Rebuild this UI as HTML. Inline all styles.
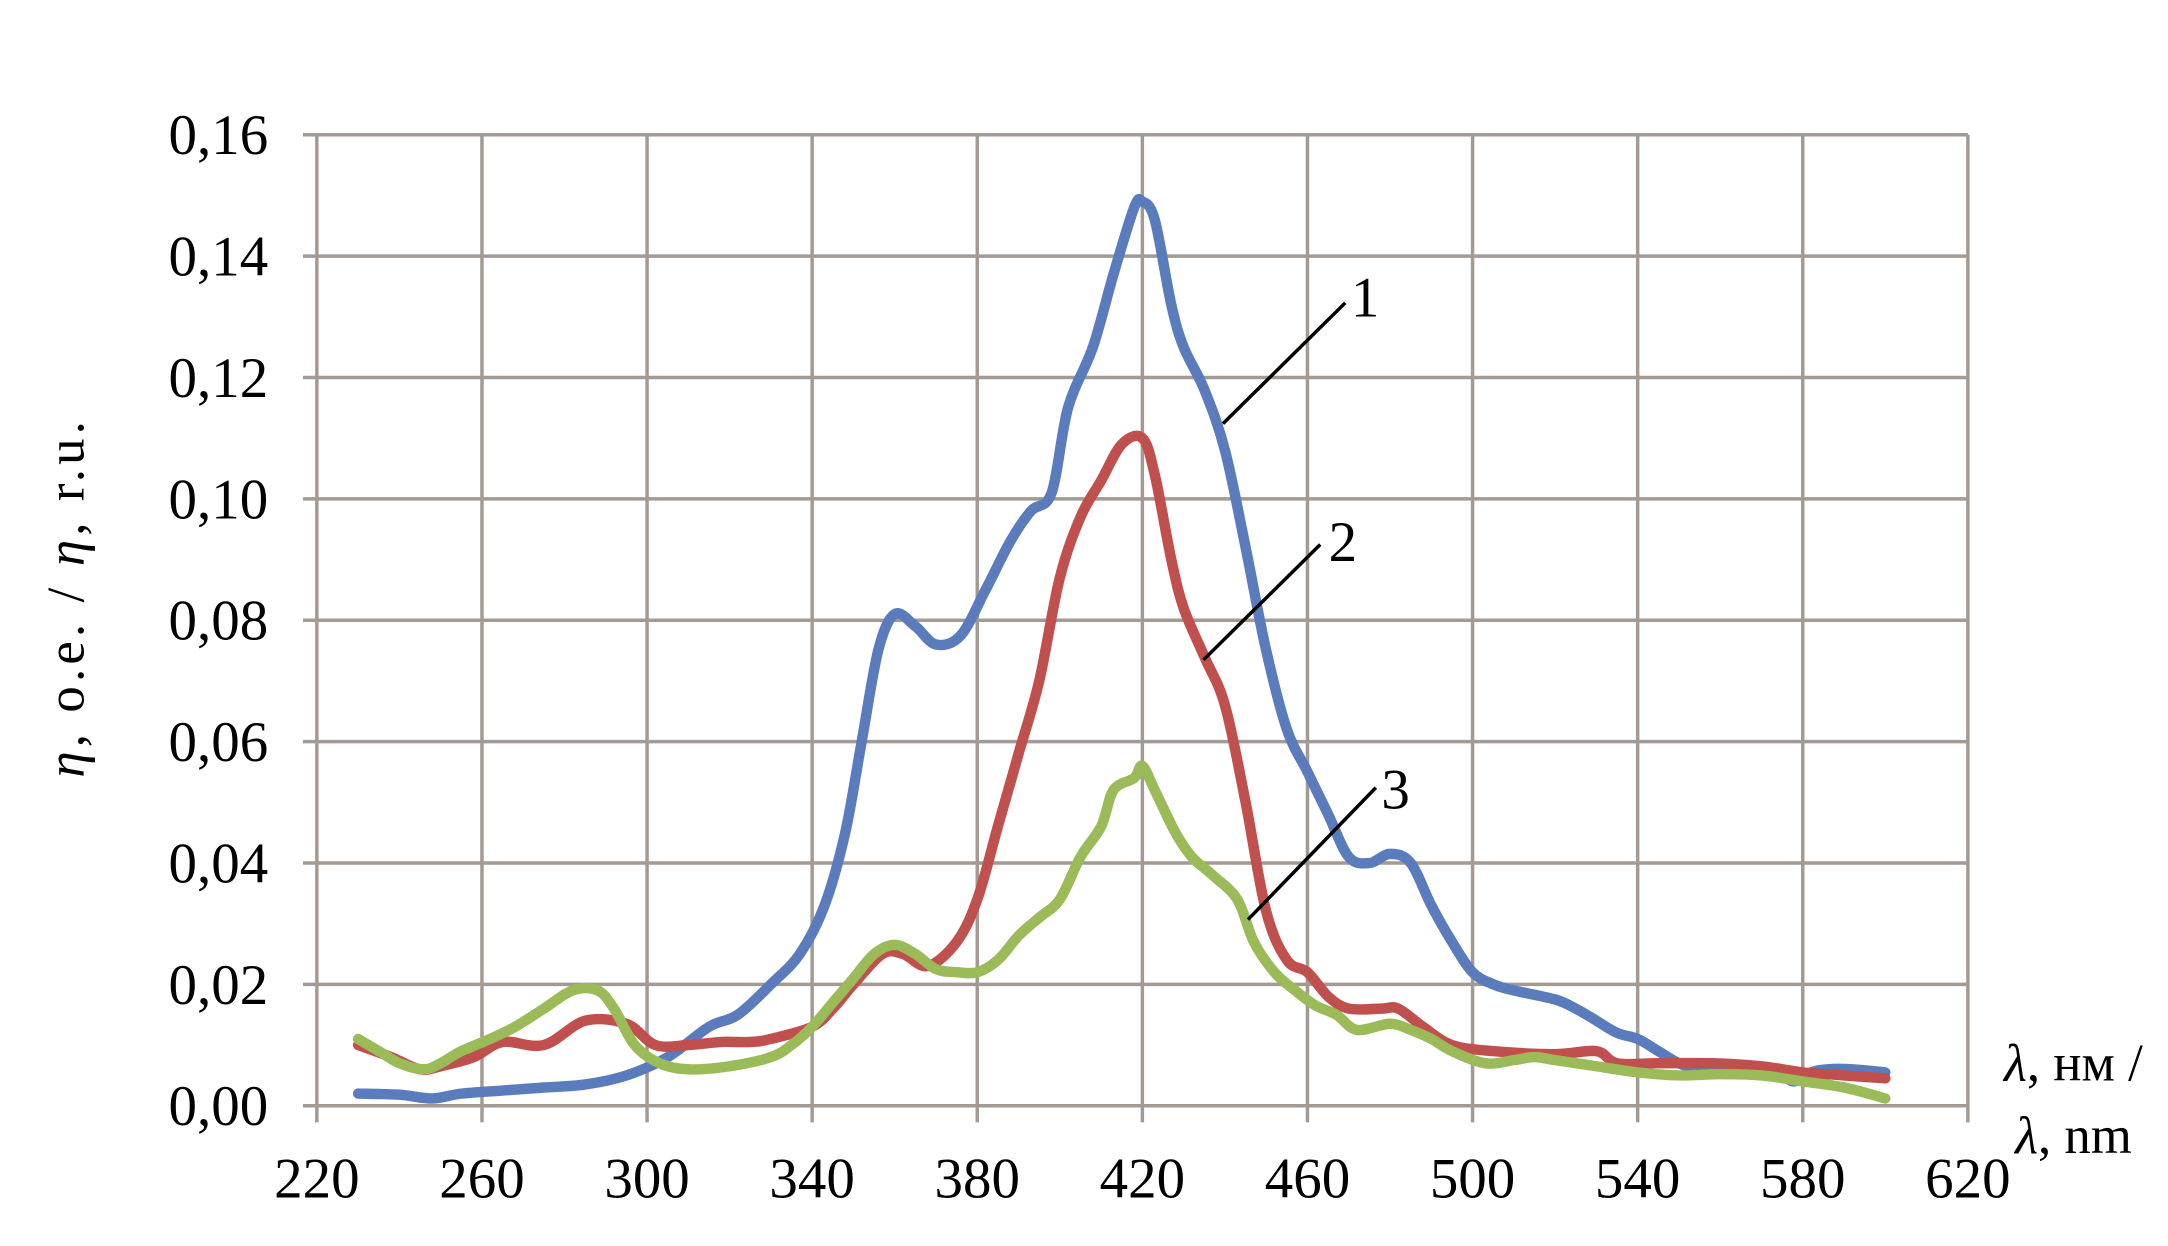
<!DOCTYPE html>
<html><head><meta charset="utf-8"><style>
html,body{margin:0;padding:0;background:#fff;}
svg{display:block;}
text{font-family:"Liberation Serif",serif;fill:#000;}
</style></head><body>
<svg id="s" width="2168" height="1246" viewBox="0 0 1560 897" preserveAspectRatio="none" xmlns="http://www.w3.org/2000/svg">
<g id="grid" stroke="#a39a94" stroke-width="2.5" fill="none"></g>
<g id="labels" font-size="41"></g>
<g id="curves" fill="none" stroke-width="7.5" stroke-linejoin="round" stroke-linecap="round"></g>
<g stroke="#000" stroke-width="2.5">
<line x1="880" y1="305" x2="968" y2="218"/>
<line x1="866" y1="475" x2="950" y2="392"/>
<line x1="898" y1="662" x2="990" y2="567"/>
</g>
<text x="972" y="228" font-size="41">1</text>
<text x="956" y="404" font-size="41">2</text>
<text x="994" y="582" font-size="41">3</text>
<text x="1442" y="778" font-size="38"><tspan font-style="italic">λ</tspan>, нм /</text>
<text x="1450" y="830" font-size="38"><tspan font-style="italic">λ</tspan>, nm</text>
<text transform="translate(60,430) rotate(-90)" text-anchor="middle" font-size="38" letter-spacing="3"><tspan font-style="italic">η</tspan>, о.е. / <tspan font-style="italic">η</tspan>,  r.u.</text>
</svg>
<script>
var ns="http://www.w3.org/2000/svg";
function X(l){return 228+(l-220)*2.97;}
function Y(v){return 796-v*4368.75;}
var g=document.getElementById('grid'),lb=document.getElementById('labels'),cv=document.getElementById('curves');
function el(p,t,a){var e=document.createElementNS(ns,t);for(var k in a)e.setAttribute(k,a[k]);p.appendChild(e);return e;}
for(var i=0;i<=10;i++){var x=X(220+i*40);el(g,'line',{x1:x,y1:97,x2:x,y2:808});
 var t=el(lb,'text',{x:x,y:862,'text-anchor':'middle'});t.textContent=220+i*40;}
for(var j=0;j<=8;j++){var y=Y(j*0.02);el(g,'line',{x1:218,y1:y,x2:1416,y2:y});
 var t=el(lb,'text',{x:193,y:y+14,'text-anchor':'end'});t.textContent='0,'+(j*2<10?'0':'')+(j*2);}
var B=[230,.002,240,.0018,248,.0012,255,.002,265,.0025,275,.003,285,.0035,295,.005,305,.008,315,.013,322,.015,330,.02,337,.025,343,.033,348,.045,352,.06,356,.075,360,.081,365,.079,370,.076,376,.0775,382,.085,388,.093,393,.098,398,.101,402,.115,408,.125,413,.137,418,.148,420,.149,423,.146,427,.132,430,.125,435,.118,440,.108,445,.092,450,.075,455,.062,460,.055,465,.048,470,.041,475,.04,480,.0415,485,.04,490,.033,495,.027,500,.022,505,.02,510,.019,520,.0175,525,.016,530,.014,535,.012,540,.011,545,.009,550,.007,555,.006,560,.0065,565,.006,570,.006,575,.005,578,.004,582,.0055,586,.006,592,.006,600,.0055];
var R=[230,.01,238,.008,245,.006,250,.0065,258,.008,265,.0105,275,.01,285,.014,295,.0135,302,.01,310,.01,318,.0105,325,.0105,330,.011,340,.013,345,.016,350,.02,357,.025,362,.025,368,.023,375,.027,380,.034,385,.046,390,.058,395,.07,400,.087,405,.097,410,.103,415,.109,420,.11,423,.104,427,.09,430,.082,435,.074,440,.066,445,.05,450,.032,455,.024,460,.022,465,.018,470,.016,478,.016,482,.016,488,.013,495,.01,505,.009,520,.0085,530,.009,535,.007,545,.007,558,.007,570,.0065,580,.0055,590,.005,600,.0045];
var G=[230,.011,235,.009,240,.007,246,.006,250,.007,255,.009,262,.011,268,.013,275,.016,282,.019,288,.019,292,.016,297,.01,303,.007,310,.006,320,.0065,330,.008,335,.01,340,.013,345,.017,350,.021,355,.025,360,.0265,365,.025,370,.0225,375,.022,380,.022,385,.024,390,.028,395,.031,400,.034,405,.041,410,.046,413,.052,418,.054,420,.056,423,.052,428,.045,432,.041,437,.038,443,.034,447,.027,452,.022,457,.019,462,.0165,467,.015,472,.0125,480,.0135,485,.0125,490,.011,495,.009,503,.007,510,.0075,515,.008,520,.0075,530,.0065,540,.0055,550,.005,560,.0052,570,.005,580,.004,590,.003,600,.0012];
function draw(d,c){var p=[];for(var i=0;i<d.length;i+=2)p.push([X(d[i]),Y(d[i+1])]);
 var s='M'+p[0][0]+','+p[0][1];
 for(var i=0;i<p.length-1;i++){var p0=p[i-1]||p[i],p1=p[i],p2=p[i+1],p3=p[i+2]||p2;
  var c1x=p1[0]+(p2[0]-p0[0])/6,c1y=p1[1]+(p2[1]-p0[1])/6,c2x=p2[0]-(p3[0]-p1[0])/6,c2y=p2[1]-(p3[1]-p1[1])/6;
  s+=' C'+c1x.toFixed(1)+','+c1y.toFixed(1)+' '+c2x.toFixed(1)+','+c2y.toFixed(1)+' '+p2[0].toFixed(1)+','+p2[1].toFixed(1);}
 el(cv,'path',{d:s,stroke:c});}
draw(B,'#5a7cbd');draw(R,'#c0504d');draw(G,'#9bbb59');
</script>
</body></html>
